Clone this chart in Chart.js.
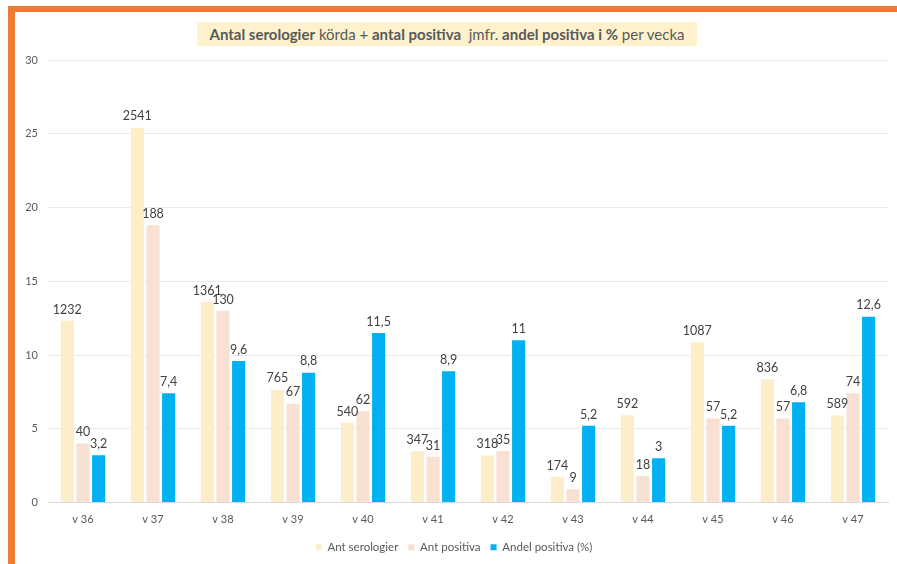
<!DOCTYPE html>
<html>
<head>
<meta charset="utf-8">
<script src="https://cdn.jsdelivr.net/npm/chart.js@4.4.0/dist/chart.umd.min.js"></script>
<style>
  html, body { margin: 0; padding: 0; background: #fff; }
  #wrap { position: relative; width: 897px; height: 564px; overflow: hidden; }
  #frameTop { position: absolute; left: 8px; top: 6px; width: 889px; height: 6px; background: #ED7D31; }
  #frameLeft { position: absolute; left: 8px; top: 6px; width: 7px; height: 558px; background: #ED7D31; }
  #title {
    position: absolute; left: 197px; top: 22px; width: 500px; height: 24px;
    background: #FEF2CC; color: #595959; text-align: center;
    font-family: Lato, "Open Sans", sans-serif; font-size: 15px; line-height: 24px;
    white-space: pre;
  }
  #title b { font-weight: bold; }
  canvas { position: absolute; left: 0; top: 0; }
</style>
</head>
<body>
<div id="wrap">
  <canvas id="myChart" width="897" height="564"></canvas>
  <div id="frameTop"></div>
  <div id="frameLeft"></div>
  <div id="title"><b>Antal serologier</b> körda + <b>antal positiva</b>  jmfr. <b>andel positiva i %</b> per vecka</div>
</div>
<script>
// weeks
const weeks = ['v 36', 'v 37', 'v 38', 'v 39', 'v 40', 'v 41', 'v 42', 'v 43', 'v 44', 'v 45', 'v 46', 'v 47'];
// raw counts, shown as labels (plotted /100 and /10 like the original)
const antSerologier = [1232, 2541, 1361, 765, 540, 347, 318, 174, 592, 1087, 836, 589];
const antPositiva = [40, 188, 130, 67, 62, 31, 35, 9, 18, 57, 57, 74];
const andelPositiva = [3.2, 7.4, 9.6, 8.8, 11.5, 8.9, 11, 5.2, 3, 5.2, 6.8, 12.6];
const yTicks = [0, 5, 10, 15, 20, 25, 30];

const fontFam = 'Lato, "Open Sans", sans-serif';

// draws the raw number above every bar
const barLabels = {
  id: 'barLabels',
  afterDatasetsDraw(chart) {
    const ctx = chart.ctx;
    ctx.save();
    ctx.font = '12.5px ' + fontFam;
    ctx.fillStyle = '#404040';
    ctx.textAlign = 'center';
    ctx.textBaseline = 'bottom';
    chart.data.datasets.forEach((ds, i) => {
      chart.getDatasetMeta(i).data.forEach((bar, j) => {
        const txt = String(ds.raw[j]).replace('.', ',');
        ctx.fillText(txt, bar.x, bar.y - 5);
      });
    });
    ctx.restore();
  }
};

const myChartRef = document.getElementById('myChart').getContext('2d');
new Chart(myChartRef, {
  type: 'bar',
  data: {
    labels: weeks,
    datasets: [
      {
        label: 'Ant serologier',
        raw: antSerologier,
        data: antSerologier.map(v => v / 100),
        backgroundColor: '#FDEDC9'
      },
      {
        label: 'Ant positiva',
        raw: antPositiva,
        data: antPositiva.map(v => v / 10),
        backgroundColor: '#F8E0D2'
      },
      {
        label: 'Andel positiva (%)',
        raw: andelPositiva,
        data: andelPositiva,
        backgroundColor: '#00B0F0'
      }
    ]
  },
  options: {
    responsive: false,
    animation: false,
    events: [],
    layout: { padding: { left: 20, right: 9, top: 60, bottom: 1 } },
    datasets: {
      bar: { categoryPercentage: 0.67, barPercentage: 0.84 }
    },
    plugins: {
      title: { display: false },
      tooltip: { enabled: false },
      legend: {
        display: true,
        position: 'bottom',
        labels: {
          boxWidth: 6,
          boxHeight: 6,
          padding: 10,
          color: '#595959',
          font: { family: fontFam, size: 11.5 }
        }
      }
    },
    scales: {
      x: {
        grid: { display: false, drawTicks: false },
        border: { color: '#D9D9D9' },
        ticks: { color: '#595959', padding: 10, font: { family: fontFam, size: 11 } },
        afterFit(scale) { scale.height = 29; }
      },
      y: {
        min: 0,
        max: 30,
        afterBuildTicks(scale) { scale.ticks = yTicks.map(v => ({ value: v })); },
        grid: { color: '#EBEBEB', drawTicks: false },
        border: { display: false },
        ticks: { color: '#595959', padding: 10, font: { family: fontFam, size: 11 } },
        afterFit(scale) { scale.width = 28; }
      }
    }
  },
  plugins: [barLabels]
});
</script>
</body>
</html>
